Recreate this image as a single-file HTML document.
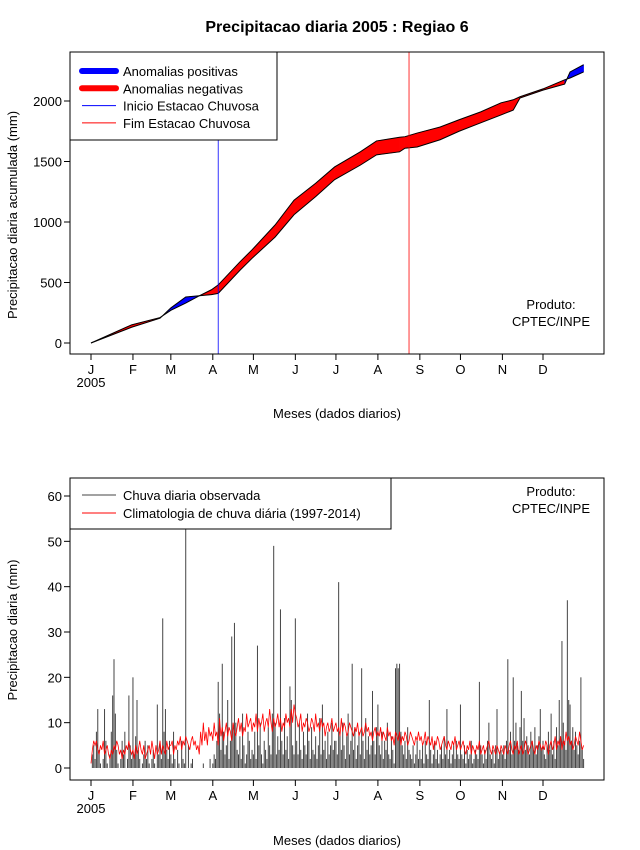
<!DOCTYPE html>
<html><head><meta charset="utf-8"><style>
body{margin:0;background:#fff}
svg{display:block;font-family:"Liberation Sans",sans-serif}
</style></head><body>
<svg id="chart" width="640" height="850" xmlns="http://www.w3.org/2000/svg">
<rect width="640" height="850" fill="#fff"/>
<text x="337" y="32" font-size="16" font-weight="bold" text-anchor="middle">Precipitacao diaria 2005 : Regiao 6</text>
<g id="topPanel"></g>
<g id="botPanel"></g>
</svg>
<script>
// ---- top panel data (cumulative, mm) ----
const cumDays = [1,31,52,60,71,81,90,95,111,120,137,151,167,181,200,212,229,233,242,259,273,289,304,313,318,335,351,355,365];
const cumObs  = [0,130,205,290,380,390,400,410,600,700,875,1060,1210,1350,1470,1555,1580,1610,1620,1680,1750,1820,1885,1925,2025,2090,2140,2240,2300];
const cumClim = [0,150,210,270,330,390,440,480,670,770,975,1180,1320,1455,1580,1670,1700,1705,1735,1785,1845,1910,1985,2010,2035,2100,2175,2190,2240];
const yTicksTop = [0,500,1000,1500,2000];
const rainStartDay = 95;
const rainEndDay = 236;
const monthLabels = ["J","F","M","A","M","J","J","A","S","O","N","D"];
const monthStart = [1,32,60,91,121,152,182,213,244,274,305,335];
// ---- bottom panel data (daily, mm) ----
const obsJan=[0,3,5,2,8,13,4,1,0,2,13,6,1,0,3,8,16,24,12,4,1,0,2,6,3,8,0,2,16,5,2];
const obsFeb=[20,3,7,15,4,2,0,1,3,6,2,5,1,0,2,4,1,0,14,3,6,2,33,8,13,4,2,6];
const obsMar=[3,1,8,2,0,4,1,0,6,2,1,70,0,5,0,1,2,0,0,0,0,0,0,0,1,0,0,0,0,2,0];
const obsApr=[1,3,2,6,19,12,4,23,8,3,5,15,2,6,29,9,32,10,4,3,7,2,12,5,1,3,8,6,2,4];
const obsMay=[3,8,2,27,5,10,3,1,6,4,2,9,5,3,12,49,10,3,7,4,35,6,3,11,4,7,2,18,15,5,3];
const obsJun=[33,6,3,10,4,2,8,5,3,12,6,2,9,4,3,7,2,5,11,3,14,4,6,2,8,3,5,10,4,6];
const obsJul=[6,3,41,8,4,10,5,2,7,12,3,6,23,4,9,2,5,8,3,22,6,2,11,4,7,3,5,17,6,3,9];
const obsAug=[14,5,3,8,2,6,4,10,3,2,7,4,1,22,23,22,23,8,5,3,6,2,9,4,3,2,5,1,3,6,2];
const obsSep=[4,2,5,1,6,3,2,15,4,1,3,6,2,4,1,3,5,2,7,3,13,2,4,1,3,5,2,6,3,2];
const obsOct=[14,3,2,5,1,4,2,3,6,1,2,4,3,2,19,5,3,1,4,2,6,10,3,2,4,1,5,13,2,3,4];
const obsNov=[3,5,2,6,24,4,8,3,20,6,10,5,4,9,17,6,11,4,7,5,3,8,6,4,9,3,5,7,13,4];
const obsDec=[6,3,2,5,8,4,12,3,6,2,9,5,15,7,28,10,6,4,37,15,14,6,9,4,8,5,3,6,20,4,2];
const climJan=[1,4,6,5,6,4,3,5,4,6,3,4,5,3,2,4,3,5,4,6,5,3,4,2,4,3,5,4,6,4,3];
const climFeb=[4,2,5,3,4,6,4,3,5,2,3,4,5,3,6,4,2,5,3,4,6,3,5,4,3,6,4,5];
const climMar=[5,6,3,5,4,6,5,7,4,6,5,7,6,5,4,6,7,5,6,4,5,3,8,5,10,6,8,5,9,7,8];
const climApr=[6,10,7,8,5,11,7,9,6,8,10,7,9,8,6,10,8,7,9,11,8,10,7,9,8,12,9,10,11,8];
const climMay=[10,9,12,8,11,9,10,12,8,10,11,9,13,10,8,11,9,10,12,9,11,8,10,9,12,10,11,9,13,10,14];
const climJun=[12,11,9,10,12,8,10,9,11,10,8,9,11,10,8,12,9,10,8,11,9,10,7,9,10,8,9,11,8,9];
const climJul=[10,8,9,7,11,8,10,9,7,8,10,9,8,7,9,8,10,7,8,9,7,8,10,8,9,7,8,6,8,9,7];
const climAug=[8,7,9,6,8,7,6,9,7,8,6,7,5,8,7,6,8,5,7,6,8,7,5,6,8,7,6,5,7,6,8];
const climSep=[6,7,5,6,8,5,7,6,5,7,4,6,5,7,6,4,5,6,7,5,4,6,5,4,6,5,7,4,5,6];
const climOct=[4,5,6,4,3,5,4,6,3,5,4,3,5,4,6,3,4,5,3,4,5,6,4,3,5,4,3,5,4,3,5];
const climNov=[4,3,5,4,3,5,6,4,3,5,4,6,3,4,5,3,4,6,5,3,4,5,6,4,3,5,4,6,5,4];
const climDec=[5,4,6,5,3,5,6,4,5,7,4,6,5,7,4,6,5,8,6,7,5,6,4,5,7,6,5,8,6,4,5];
const yTicksBot = [0,10,20,30,40,50,60];

const NS="http://www.w3.org/2000/svg";
function mk(parent,tag,attrs,text){const e=document.createElementNS(NS,tag);for(const k in attrs)e.setAttribute(k,attrs[k]);if(text!==undefined)e.textContent=text;parent.appendChild(e);return e;}
const xDay = d => 91 + (d-1)*(543-91)/334;
const yTop = v => 343 - v*0.121;
const yBot = v => 768 - v*(768-496)/60;

function axes(g, box, yTicks, yf, yLabel, ylabY, axisY){
  const r=mk(g,'rect',{x:box[0],y:box[1],width:box[2]-box[0],height:box[3]-box[1],fill:'none',stroke:'#000'});
  
  
  yTicks.forEach(v=>{
    const y=yf(v);
    const t=mk(g,'line',{x1:box[0]-6,x2:box[0],y1:y,y2:y,stroke:'#000'});
    
    
    const l=mk(g,'text',{x:box[0]-8,y:y+5,'font-size':13,'text-anchor':'end'},String(v));
    
    
  });
  monthStart.forEach((d,i)=>{
    const x=xDay(d);
    const t=mk(g,'line',{x1:x,x2:x,y1:box[3],y2:box[3]+6,stroke:'#000'});
    
    
    const l=mk(g,'text',{x:x,y:box[3]+20,'font-size':13,'text-anchor':'middle'},monthLabels[i]);
    
    
  });
  const yr=mk(g,'text',{x:xDay(1),y:box[3]+33,'font-size':13,'text-anchor':'middle'},'2005');
  
  
  const xl=mk(g,'text',{x:337,y:axisY,'font-size':13,'text-anchor':'middle'},'Meses (dados diarios)');
  
  
  const yl=mk(g,'text',{x:0,y:0,'font-size':13,'text-anchor':'middle',transform:`translate(17,${ylabY}) rotate(-90)`},yLabel);
  
  
}
function produto(g,y){
  const a=mk(g,'text',{x:551,y:y,'font-size':13,'text-anchor':'middle'},'Produto:');
  
  
  const b=mk(g,'text',{x:551,y:y+17,'font-size':13,'text-anchor':'middle'},'CPTEC/INPE');
  
  
}

// ---- TOP ----
const topG=document.getElementById('topPanel');
for(let i=0;i<cumDays.length-1;i++){
  const x0=xDay(cumDays[i]),x1=xDay(cumDays[i+1]);
  const pos=(cumObs[i]+cumObs[i+1])>(cumClim[i]+cumClim[i+1]);
  const p=mk(topG,'polygon',{points:`${x0},${yTop(cumObs[i])} ${x1},${yTop(cumObs[i+1])} ${x1},${yTop(cumClim[i+1])} ${x0},${yTop(cumClim[i])}`,fill:pos?'#0000ff':'#ff0000',stroke:pos?'#0000ff':'#ff0000','stroke-width':0.5});
  
  
}
const lineObs=mk(topG,'polyline',{points:cumDays.map((d,i)=>`${xDay(d)},${yTop(cumObs[i])}`).join(' '),fill:'none',stroke:'#000'});


const lineClim=mk(topG,'polyline',{points:cumDays.map((d,i)=>`${xDay(d)},${yTop(cumClim[i])}`).join(' '),fill:'none',stroke:'#000'});


const vs=mk(topG,'line',{x1:xDay(rainStartDay),x2:xDay(rainStartDay),y1:52,y2:354,stroke:'#0000ff','stroke-width':0.8});


const ve=mk(topG,'line',{x1:xDay(rainEndDay),x2:xDay(rainEndDay),y1:52,y2:354,stroke:'#ff0000','stroke-width':0.8});


axes(topG,[70,52,604,354],yTicksTop,yTop,'Precipitacao diaria acumulada (mm)',215,418);
produto(topG,309);
const lg=mk(topG,'g',{});


mk(lg,'rect',{x:70,y:52,width:207,height:88,fill:'#fff',stroke:'#000'});
[['Anomalias positivas','#0000ff',6],['Anomalias negativas','#ff0000',6],['Inicio Estacao Chuvosa','#0000ff',1],['Fim Estacao Chuvosa','#ff0000',1]].forEach((e,i)=>{
  const y=71+i*17.3;
  const ent=mk(lg,'g',{});
  
  
  mk(ent,'line',{x1:82,x2:116,y1:y,y2:y,stroke:e[1],'stroke-width':e[2],'stroke-linecap':e[2]>1?'round':'butt'});
  mk(ent,'text',{x:123,y:y+5,'font-size':13},e[0]);
});

// ---- BOTTOM ----
const botG=document.getElementById('botPanel');
const obs=[].concat(obsJan,obsFeb,obsMar,obsApr,obsMay,obsJun,obsJul,obsAug,obsSep,obsOct,obsNov,obsDec);
const clim=[].concat(climJan,climFeb,climMar,climApr,climMay,climJun,climJul,climAug,climSep,climOct,climNov,climDec);
obs.forEach((v,i)=>{
  const x=xDay(i+1);
  const yv=Math.max(yBot(v),479);
  const b=mk(botG,'line',{x1:x,x2:x,y1:768,y2:yv,stroke:'#444','stroke-width':1});
  
  
});
const cl=mk(botG,'polyline',{points:clim.map((v,i)=>`${xDay(i+1)},${yBot(v)}`).join(' '),fill:'none',stroke:'#ff0000','stroke-width':0.8});


axes(botG,[70,478,604,780],yTicksBot,yBot,'Precipitacao diaria (mm)',630,845);
produto(botG,496);
const lg2=mk(botG,'g',{});


mk(lg2,'rect',{x:70,y:478,width:321,height:51,fill:'#fff',stroke:'#000'});
[['Chuva diaria observada','#444'],['Climatologia de chuva diária (1997-2014)','#ff0000']].forEach((e,i)=>{
  const y=495+i*18;
  const ent=mk(lg2,'g',{});
  
  
  mk(ent,'line',{x1:82,x2:116,y1:y,y2:y,stroke:e[1],'stroke-width':1});
  mk(ent,'text',{x:123,y:y+5,'font-size':13},e[0]);
});
</script>
</body></html>
